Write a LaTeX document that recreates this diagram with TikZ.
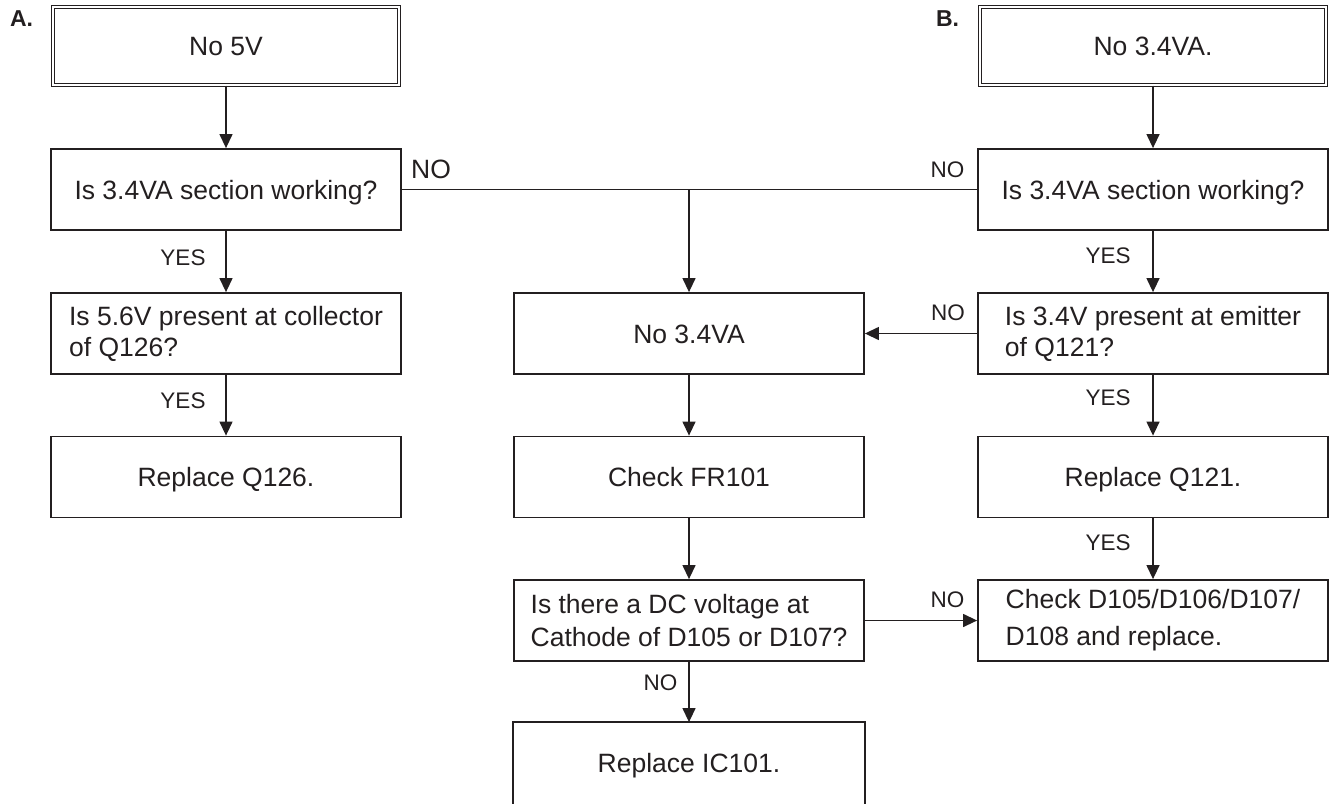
\documentclass[tikz,border=0pt]{standalone}
\usepackage{fontspec}
\setmainfont{Liberation Sans}
\usetikzlibrary{arrows.meta}
\definecolor{ink}{RGB}{35,31,32}
\begin{document}
\begin{tikzpicture}[x=1pt,y=-1pt,
  box/.style={draw=ink, line width=1.8pt, minimum width=350pt, minimum height=81pt,
    inner sep=0pt, text=ink, font=\fontsize{26.5}{31}\selectfont},
  sbox/.style={box, text height=19pt, text depth=0pt},
  dbox/.style={sbox, line width=1pt, draw=ink, double=white, double distance=2pt,
    minimum width=346pt, minimum height=78pt},
  mbox/.style={box, align=left},
  conn/.style={draw=ink, line width=1.3pt},
  arr/.style={conn, -{Triangle[length=14pt,width=13pt]}},
  lbl/.style={text=ink, inner sep=0pt, anchor=base, font=\fontsize{22.5}{27}\selectfont},
  biglbl/.style={lbl, font=\fontsize{26.5}{31}\selectfont},
  head/.style={lbl, font=\fontsize{23}{27}\selectfont\bfseries}
]
\useasboundingbox (0,0) rectangle (1329,803);

% column A
\node[dbox] (a)  at (226,46)    {No 5V};
\node[sbox] (l1) at (226,189.5) {Is 3.4VA section working?};
\node[mbox] (l2) at (226,333.5) {Is 5.6V present at collector\\of Q126?};
\node[sbox] (l3) at (226,477)   {Replace Q126.};

% middle column
\node[sbox] (m2) at (689,333.5) {No 3.4VA};
\node[sbox] (m3) at (689,477)   {Check FR101};
\node[mbox, font=\fontsize{26.5}{33}\selectfont] (m4) at (689,620.5) {Is there a DC voltage at\\Cathode of D105 or D107?};
\node[sbox, draw=none, minimum height=80pt] (m5) at (689,763) {Replace IC101.};
\draw[draw=ink, line width=1.8pt] (m5.south west) -- (m5.north west) -- (m5.north east) -- (m5.south east);

% column B
\node[dbox] (b)  at (1153,46)    {No 3.4VA.};
\node[sbox] (r1) at (1153,189.5) {Is 3.4VA section working?};
\node[mbox] (r2) at (1153,333.5) {Is 3.4V present at emitter\\of Q121?};
\node[sbox] (r3) at (1153,477)   {Replace Q121.};
\node[mbox, font=\fontsize{26.5}{37}\selectfont] (r4) at (1153,620.5) {Check D105/D106/D107/\\D108 and replace.};

% headings
\node[head] (ha) at (21.5,27) {A.};
\node[head] (hb) at (947.5,27) {B.};

% connectors
\draw[arr] (a) -- (l1);
\draw[arr] (l1) -- (l2);
\draw[arr] (l2) -- (l3);
\draw[conn] (l1.east) -- (r1.west);
\coordinate (j) at (m2.north |- l1.east);
\draw[arr] (j) -- (m2);
\draw[arr] (r2) -- (m2);
\draw[arr] (m2) -- (m3);
\draw[arr] (m3) -- (m4);
\draw[arr] (m4) -- (m5.north);
\draw[arr] (m4) -- (r4);
\draw[arr] (b) -- (r1);
\draw[arr] (r1) -- (r2);
\draw[arr] (r2) -- (r3);
\draw[arr] (r3) -- (r4);

% labels
\node[biglbl] (n1) at (431,178) {NO};
\node[lbl] (n2) at (947.5,177) {NO};
\node[lbl] (n3) at (948,320) {NO};
\node[lbl] (n4) at (947.5,607) {NO};
\node[lbl] (n5) at (660.5,690) {NO};
\node[lbl] (y1) at (183,265) {YES};
\node[lbl] (y2) at (183,408) {YES};
\node[lbl] (y3) at (1108,263) {YES};
\node[lbl] (y4) at (1108,405) {YES};
\node[lbl] (y5) at (1108,550) {YES};
\end{tikzpicture}
\end{document}
